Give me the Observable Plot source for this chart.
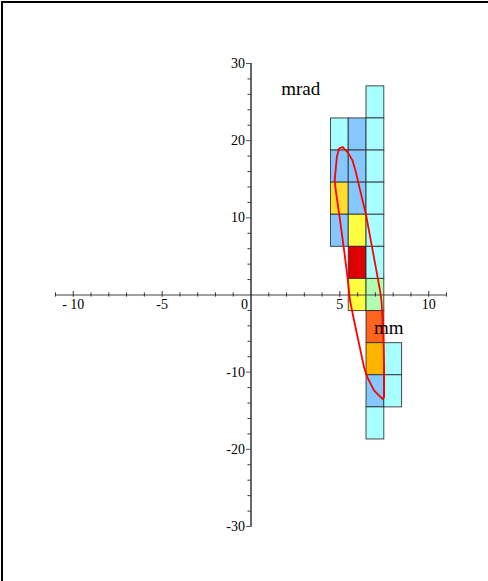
<!DOCTYPE html>
<html>
<head>
<meta charset="utf-8">
<script src="https://cdn.jsdelivr.net/npm/d3@7"></script>
<script src="https://cdn.jsdelivr.net/npm/@observablehq/plot@0.6"></script>
<style>
  html, body { margin: 0; padding: 0; background: #fff; }
  #wrap { position: relative; width: 488px; height: 581px; }
  #frame { position: absolute; left: 1px; top: 1px; right: 0; bottom: 0; border-left: 2px solid #000; border-top: 2px solid #000; pointer-events: none; }
  svg { display: block; }
</style>
</head>
<body>
<div id="wrap"><div id="frame"></div></div>
<script>
// Histogram cells (phase space): column centre (mm), row centre (mrad), density level
const cellX = [5, 5, 5, 5,
               6, 6, 6, 6, 6, 6,
               7, 7, 7, 7, 7, 7, 7, 7, 7, 7, 7,
               8, 8];
const cellY = [20.8, 16.64, 12.48, 8.32,
               20.8, 16.64, 12.48, 8.32, 4.16, 0,
               24.96, 20.8, 16.64, 12.48, 8.32, 4.16, 0, -4.16, -8.32, -12.48, -16.64,
               -8.32, -12.48];
const cellLevel = [1, 2, 5, 2,
                   2, 2, 2, 4, 8, 4,
                   1, 1, 1, 1, 1, 1, 3, 7, 6, 2, 1,
                   1, 1];
const binWidthX = 1;
const binWidthY = 4.16;
const levels = [1, 2, 3, 4, 5, 6, 7, 8];
const levelColors = ["#a8ffff", "#84c8ff", "#b0ffb0", "#ffff40", "#ffdd30", "#ffb400", "#ff6420", "#dd0000"];

// Emittance ellipse outline
const ellipseX = [5.15, 4.95, 4.83, 4.71, 4.77, 5.01, 5.24, 5.43, 5.57, 5.80, 6.08, 6.36, 6.55, 6.93, 7.40,
                  7.49, 7.49, 7.45, 7.34, 7.26, 7.02, 6.74, 6.46, 6.14, 5.90, 5.71, 5.43];
const ellipseY = [19.18, 18.97, 17.88, 14.86, 13.56, 9.67, 5.77, 2.31, -0.71, -3.31, -6.33, -9.37, -10.67, -12.39, -13.47,
                  -13.26, -9.37, -5.03, -0.71, 0.58, 3.61, 7.07, 10.54, 13.56, 15.93, 17.45, 18.53];

// Axes
const xMajorTicks = [-10, -5, 5, 10];
const xTickLabels = ["- 10", "-5", "5", "10"];
const xMinorTicks = [-11, -9, -8, -7, -6, -4, -3, -2, -1, 1, 2, 3, 4, 6, 7, 8, 9, 11];
const yMajorTicks = [30, 20, 10, -10, -20, -30];
const yTickLabels = ["30", "20", "10", "-10", "-20", "-30"];
const yMinorTicks = [28, 26, 24, 22, 18, 16, 14, 12, 8, 6, 4, 2, -2, -4, -6, -8, -12, -14, -16, -18, -22, -24, -26, -28];
const axisLabels = [{text: "mrad", x: 2.8, y: 26.7}, {text: "mm", x: 7.75, y: -4.3}];

const cells = cellX.map((x, i) => ({x, y: cellY[i], level: cellLevel[i]}));
const ellipse = ellipseX.map((x, i) => ({x, y: ellipseY[i]}));
const serif = "'Liberation Serif', 'DejaVu Serif', serif";

const chart = Plot.plot({
  width: 488,
  height: 581,
  marginLeft: 55,
  marginRight: 42,
  marginTop: 63,
  marginBottom: 55,
  x: {domain: [-11, 11], axis: null},
  y: {domain: [-30, 30], axis: null},
  color: {type: "ordinal", domain: levels, range: levelColors},
  style: {fontFamily: serif, background: "transparent"},
  marks: [
    Plot.rect(cells, {
      x1: d => d.x - binWidthX / 2, x2: d => d.x + binWidthX / 2,
      y1: d => d.y - binWidthY / 2, y2: d => d.y + binWidthY / 2,
      fill: "level", stroke: "#2a2a2a", strokeWidth: 1, strokeOpacity: 0.85
    }),
    // axes lines
    Plot.ruleY([0], {x1: -11, x2: 11, stroke: "#444", strokeWidth: 1}),
    Plot.ruleX([0], {y1: -30, y2: 30, stroke: "#000", strokeWidth: 1.2}),
    // x ticks
    Plot.ruleX(xMinorTicks, {y1: -0.27, y2: 0.27, stroke: "#333"}),
    Plot.ruleX(xMajorTicks, {y1: -0.3, y2: 0.45, stroke: "#333"}),
    // y ticks
    Plot.ruleY(yMinorTicks, {x1: -0.17, x2: 0, stroke: "#333"}),
    Plot.ruleY(yMajorTicks, {x1: -0.25, x2: 0.06, stroke: "#555"}),
    // tick labels
    Plot.text(xMajorTicks, {x: d => d, y: 0, text: (d, i) => xTickLabels[i], lineAnchor: "top", dy: 4, fontSize: 14, fill: "#000"}),
    Plot.text(yMajorTicks, {x: 0, y: d => d, text: (d, i) => yTickLabels[i], textAnchor: "end", dx: -6, fontSize: 14, fill: "#000"}),
    Plot.text([0], {x: 0, y: 0, text: d => String(d), textAnchor: "end", lineAnchor: "top", dx: -3, dy: 4, fontSize: 14, fill: "#000"}),
    // ellipse
    Plot.line(ellipse, {x: "x", y: "y", stroke: "#ff0000", strokeWidth: 1.8, curve: "linear-closed"}),
    // axis labels
    Plot.text(axisLabels, {x: "x", y: "y", text: "text", fontSize: 19, fill: "#000", letterSpacing: "0.8px"})
  ]
});
document.getElementById("wrap").prepend(chart);
</script>
</body>
</html>
